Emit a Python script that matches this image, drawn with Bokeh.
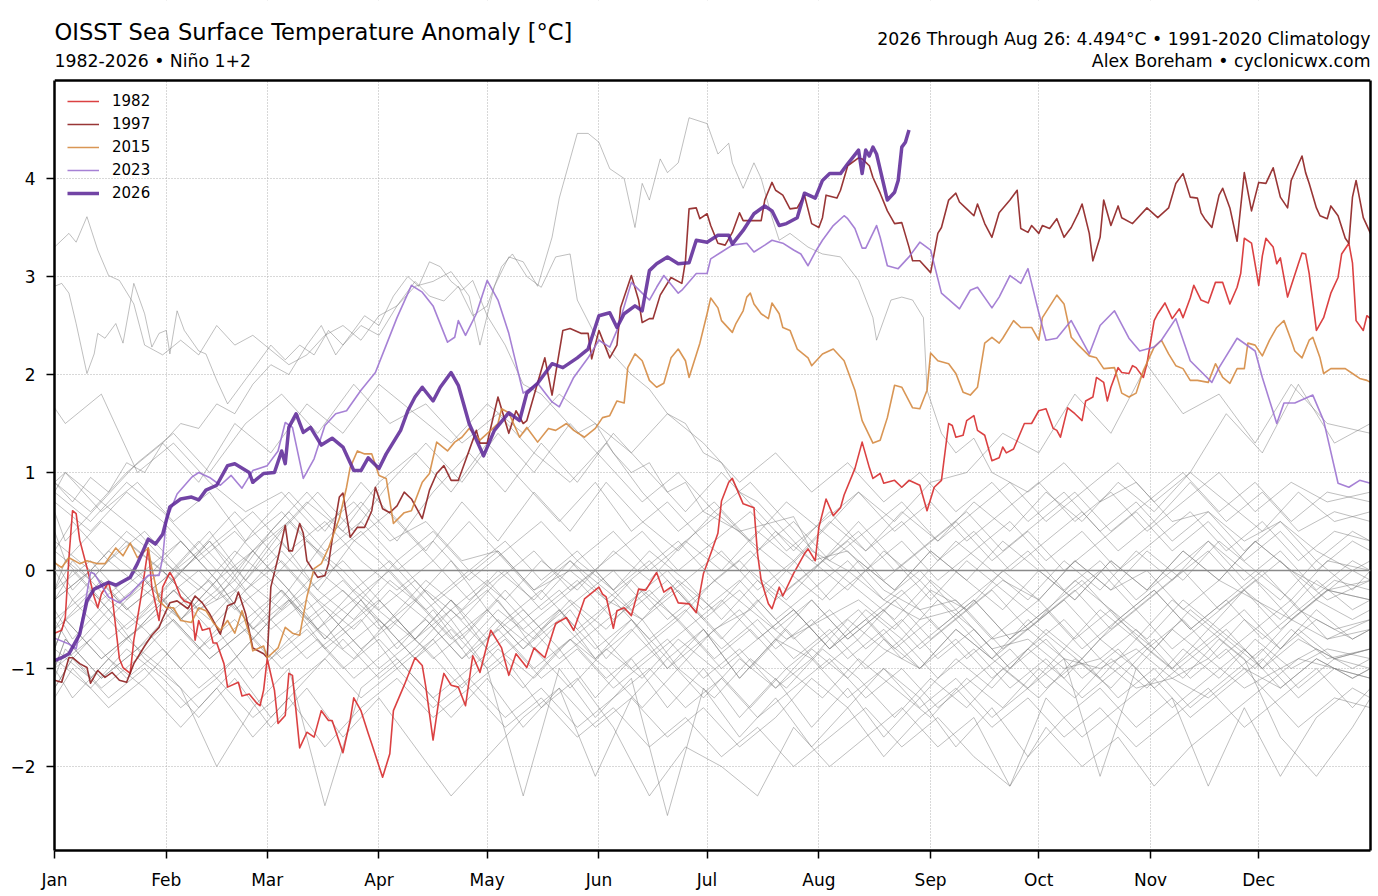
from bokeh.plotting import figure
from bokeh.models import (Range1d, FixedTicker, Span, Label, CustomJSTickFormatter,
                          LinearAxis, BoxAnnotation)
from bokeh.embed import file_html
from bokeh.resources import INLINE

# ---------------- axis data ----------------
X_MIN, X_MAX = 0, 365
Y_MIN, Y_MAX = -2.857, 5.0
MONTH_STARTS = [0, 31, 59, 90, 120, 151, 181, 212, 243, 273, 304, 334]
MONTH_LABELS = ["Jan", "Feb", "Mar", "Apr", "May", "Jun", "Jul", "Aug", "Sep", "Oct", "Nov", "Dec"]
Y_TICKS = [-2, -1, 0, 1, 2, 3, 4]

# ---------------- highlighted years: (day of year, anomaly) ----------------
S1982 = [(0,-0.64),(2,-0.61),(3,-0.48),(4,0.13),(5,0.61),(6,0.58),(7,0.31),(9,0.03),(11,-0.27),(12,-0.38),
         (13,-0.24),(15,-0.12),(16,-0.27),(18,-0.9),(19,-0.99),(21,-1.05),(22,-0.71),(24,-0.27),(26,0.23),(27,-0.17),
         (29,-0.51),(30,-0.17),(32,-0.02),(33,-0.08),(35,-0.27),(36,-0.31),(38,-0.34),(39,-0.71),(40,-0.51),(41,-0.61),
         (43,-0.59),(44,-0.74),(45,-0.74),(47,-0.95),(48,-1.19),(51,-1.14),(52,-1.28),(54,-1.26),(56,-1.35),(57,-1.38),
         (58,-1.22),(59,-0.9),(61,-1.22),(62,-1.56),(64,-1.48),(65,-1.05),(66,-1.07),(68,-1.81),(70,-1.65),(72,-1.7),
         (74,-1.43),(76,-1.53),(77,-1.53),(80,-1.86),(82,-1.53),(83,-1.3),(85,-1.43),(87,-1.66),(88,-1.77),(91,-2.11),
         (93,-1.87),(94,-1.43),(97,-1.17),(100,-0.89),(102,-0.97),(103,-1.19),(105,-1.73),(107,-1.22),(108,-1.05),(110,-1.17),
         (112,-1.19),(114,-1.38),(116,-0.87),(118,-1.04),(121,-0.61),(124,-0.79),(126,-1.07),(128,-0.85),(131,-0.99),(133,-0.79),
         (136,-0.89),(139,-0.54),(142,-0.48),(144,-0.61),(147,-0.29),(151,-0.17),(152,-0.24),(153,-0.27),(155,-0.59),(156,-0.41),
         (158,-0.38),(160,-0.46),(162,-0.19),(164,-0.2),(167,-0.02),(169,-0.22),(171,-0.17),(173,-0.33),(176,-0.34),(178,-0.43),
         (180,-0.03),(182,0.17),(184,0.38),(185,0.71),(187,0.9),(188,0.94),(191,0.68),(194,0.64),(195,0.17),(196,-0.1),
         (198,-0.34),(199,-0.39),(201,-0.17),(202,-0.26),(205,-0.03),(208,0.17),(209,0.22),(211,0.1),(212,0.44),(214,0.73),
         (216,0.56),(218,0.64),(219,0.77),(222,1.04),(224,1.31),(226,1.05),(227,0.94),(229,0.99),(230,0.89),(233,0.92),
         (235,0.85),(237,0.92),(240,0.87),(242,0.61),(244,0.85),(246,0.92),(248,1.5),(249,1.48),(250,1.36),(252,1.38),
         (253,1.53),(255,1.58),(256,1.43),(258,1.38),(260,1.12),(262,1.15),(263,1.26),(264,1.2),(266,1.24),(269,1.5),
         (271,1.5),(273,1.63),(275,1.65),(277,1.45),(278,1.43),(279,1.36),(281,1.66),(283,1.6),(285,1.53),(286,1.73),
         (288,1.77),(289,1.97),(291,1.92),(292,1.73),(293,1.87),(295,2.07),(296,2.02),(298,2.01),(299,2.09),(300,2.07),
         (302,1.97),(303,2.11),(305,2.55),(306,2.62),(308,2.73),(310,2.57),(312,2.67),(313,2.58),(315,2.78),(316,2.91),
         (318,2.76),(320,2.73),(322,2.94),(324,2.94),(326,2.72),(328,2.89),(329,3.03),(330,3.39),(332,3.34),(334,2.91),
         (335,3.21),(336,3.39),(338,3.3),(339,3.13),(340,3.19),(342,2.79),(345,3.13),(346,3.24),(347,3.23),(348,3.03),
         (350,2.45),(352,2.58),(354,2.83),(356,2.99),(357,3.23),(359,3.34),(360,3.14),(361,2.55),(363,2.45),(364,2.6),(365,2.57)]

S1997 = [(0,-1.12),(2,-1.14),(4,-0.89),(5,-0.89),(7,-0.95),(9,-0.99),(10,-1.15),(12,-1.02),(14,-1.09),(16,-1.04),
         (18,-1.12),(20,-1.14),(22,-0.95),(25,-0.77),(27,-0.66),(29,-0.58),(30,-0.49),(32,-0.33),(34,-0.31),(37,-0.39),
         (39,-0.26),(41,-0.33),(43,-0.44),(46,-0.65),(48,-0.36),(50,-0.33),(51,-0.22),(53,-0.44),(55,-0.79),(58,-0.85),
         (59,-0.89),(60,-0.17),(62,0.13),(64,0.46),(65,0.2),(66,0.2),(68,0.48),(69,0.38),(70,0.1),(73,-0.07),
         (75,-0.05),(76,0.07),(77,0.31),(79,0.75),(80,0.79),(82,0.34),(84,0.44),(86,0.44),(88,0.61),(89,0.85),
         (91,0.63),(93,0.59),(95,0.66),(97,0.8),(99,0.73),(102,0.53),(104,0.82),(106,0.99),(108,1.07),(110,0.92),
         (112,0.92),(113,1.02),(117,1.43),(118,1.3),(120,1.3),(123,1.77),(126,1.4),(128,1.63),(130,1.5),(131,1.53),
         (136,2.17),(138,1.79),(141,2.45),(143,2.47),(146,2.42),(148,2.42),(149,2.16),(151,2.45),(154,2.17),(156,2.3),
         (157,2.68),(160,3.01),(162,2.76),(163,2.53),(165,2.57),(166,2.57),(168,2.81),(171,2.99),(174,2.93),(175,3.16),
         (176,3.69),(178,3.7),(179,3.59),(181,3.64),(182,3.52),(184,3.34),(186,3.32),(188,3.45),(190,3.65),(191,3.57),
         (193,3.57),(196,3.57),(197,3.78),(199,3.96),(200,3.88),(202,3.83),(204,3.69),(206,3.7),(208,3.83),(210,3.54),
         (212,3.5),(213,3.6),(214,3.83),(217,3.8),(218,3.88),(220,4.13),(223,4.21),(224,4.2),(226,4.13),(227,4.01),
         (229,3.85),(231,3.67),(233,3.54),(235,3.55),(237,3.3),(238,3.16),(240,3.16),(243,3.04),(245,3.44),(246,3.5),
         (248,3.78),(250,3.85),(251,3.76),(253,3.69),(255,3.62),(256,3.74),(258,3.54),(260,3.4),(262,3.65),(265,3.78),
         (267,3.88),(268,3.49),(270,3.45),(271,3.52),(273,3.44),(274,3.52),(276,3.49),(278,3.59),(280,3.4),(282,3.5),
         (284,3.65),(285,3.74),(287,3.44),(288,3.16),(290,3.4),(291,3.78),(293,3.52),(295,3.72),(296,3.6),(299,3.54),
         (303,3.7),(306,3.6),(309,3.7),(311,3.95),(313,4.05),(315,3.81),(317,3.8),(318,3.65),(319,3.59),(321,3.5),
         (323,3.83),(324,3.9),(326,3.7),(328,3.36),(330,4.06),(332,3.67),(334,3.96),(336,3.95),(338,4.11),(340,3.81),
         (342,3.7),(343,3.98),(346,4.23),(347,4.06),(348,3.95),(350,3.7),(351,3.62),(353,3.59),(354,3.72),(356,3.62),
         (358,3.39),(359,3.34),(360,3.81),(361,3.98),(363,3.6),(365,3.44)]

S2015 = [(0,0.08),(2,0.03),(4,0.13),(7,0.07),(9,0.1),(12,0.07),(14,0.07),(17,0.23),(19,0.15),(21,0.28),
         (23,0.13),(26,0.23),(27,0.02),(29,-0.31),(31,-0.38),(33,-0.38),(35,-0.51),(38,-0.53),(40,-0.38),(42,-0.41),
         (44,-0.53),(46,-0.61),(48,-0.51),(50,-0.64),(52,-0.41),(54,-0.64),(55,-0.82),(58,-0.77),(59,-0.89),(62,-0.79),
         (64,-0.58),(66,-0.64),(68,-0.66),(70,-0.27),(72,0.02),(74,0.07),(76,0.23),(79,0.53),(81,0.85),(82,1.05),
         (84,1.22),(86,1.19),(88,1.19),(90,0.97),(92,0.94),(94,0.48),(97,0.59),(99,0.61),(102,0.9),(104,0.99),
         (106,1.31),(109,1.22),(111,1.31),(113,1.36),(115,1.45),(118,1.33),(121,1.43),(123,1.5),(124,1.65),(126,1.61),
         (129,1.36),(131,1.46),(134,1.31),(137,1.45),(139,1.43),(142,1.5),(144,1.43),(147,1.36),(150,1.45),(152,1.56),
         (154,1.58),(156,1.73),(158,1.71),(159,2.07),(161,2.21),(163,2.14),(165,1.94),(167,1.87),(169,1.91),(171,2.17),
         (173,2.26),(175,2.14),(176,1.97),(179,2.32),(181,2.62),(182,2.78),(184,2.68),(185,2.55),(188,2.43),(189,2.52),
         (191,2.65),(192,2.79),(193,2.83),(194,2.72),(196,2.62),(198,2.57),(199,2.73),(201,2.62),(202,2.48),(204,2.45),
         (206,2.26),(209,2.17),(210,2.09),(213,2.21),(216,2.26),(219,2.14),(222,1.84),(224,1.53),(227,1.3),(229,1.33),
         (231,1.56),(233,1.89),(235,1.87),(238,1.66),(240,1.65),(242,1.84),(243,2.22),(245,2.14),(248,2.11),(250,2.01),
         (252,1.82),(254,1.79),(256,1.87),(258,2.32),(260,2.38),(262,2.32),(263,2.37),(266,2.55),(268,2.48),(271,2.48),
         (273,2.35),(274,2.58),(278,2.81),(280,2.72),(282,2.38),(284,2.3),(287,2.19),(289,2.17),(291,2.06),(294,2.07),
         (296,1.81),(298,1.77),(300,1.81),(302,2.04),(305,2.28),(307,2.35),(309,2.21),(311,2.09),(313,2.06),(315,1.94),
         (317,1.94),(320,1.92),(322,2.11),(324,1.97),(326,1.91),(328,2.06),(330,2.06),(331,2.32),(333,2.3),(335,2.19),
         (337,2.35),(339,2.48),(341,2.55),(343,2.35),(344,2.24),(346,2.17),(348,2.35),(349,2.38),(351,2.17),(352,2.01),
         (354,2.06),(356,2.06),(358,2.06),(360,2.01),(362,1.96),(364,1.94),(365,1.92)]

S2023 = [(0,-0.69),(4,-0.75),(6,-0.8),(8,-0.44),(10,-0.02),(11,-0.03),(15,-0.27),(18,-0.33),(21,-0.24),(24,-0.12),
         (26,-0.05),(29,-0.05),(30,0.13),(31,0.51),(34,0.78),(38,0.95),(40,1.0),(43,0.95),(46,0.87),(49,0.97),
         (52,0.84),(55,1.02),(59,1.07),(62,1.22),(64,1.51),(66,1.46),(69,0.94),(72,1.14),(75,1.48),(78,1.6),
         (81,1.63),(85,1.84),(89,2.02),(92,2.3),(95,2.58),(99,2.91),(102,2.84),(105,2.7),(109,2.33),(111,2.38),
         (112,2.55),(114,2.4),(117,2.62),(120,2.96),(123,2.76),(126,2.42),(130,1.81),(134,1.91),(138,1.72),(140,1.67),
         (144,1.97),(148,2.17),(151,2.35),(154,2.28),(156,2.45),(160,2.94),(163,2.83),(165,2.76),(167,2.89),(169,3.01),
         (173,2.83),(174,2.86),(178,3.03),(181,3.03),(182,3.18),(185,3.25),(188,3.32),(192,3.34),(194,3.25),(197,3.32),
         (199,3.37),(202,3.34),(205,3.27),(207,3.23),(209,3.11),(211,3.25),(213,3.37),(216,3.52),(219,3.62),(220,3.59),
         (222,3.49),(224,3.29),(225,3.29),(228,3.52),(229,3.4),(231,3.11),(234,3.08),(237,3.2),(240,3.35),(243,3.27),
         (246,2.83),(251,2.67),(254,2.86),(256,2.89),(260,2.68),(262,2.79),(265,3.01),(268,2.93),(270,3.08),(273,2.63),
         (275,2.35),(278,2.37),(282,2.55),(287,2.21),(290,2.5),(294,2.65),(298,2.37),(301,2.24),(305,2.28),(307,2.35),
         (311,2.57),(315,2.14),(321,1.92),(323,2.07),(328,2.37),(333,2.24),(335,1.97),(339,1.5),(341,1.71),(344,1.71),
         (349,1.79),(352,1.53),(356,0.89),(359,0.85),(362,0.92),(365,0.89)]

S2026 = [(0,-0.92),(2,-0.89),(4,-0.85),(7,-0.65),(9,-0.31),(11,-0.19),(15,-0.12),(17,-0.15),(21,-0.07),(23,0.07),
         (26,0.32),(28,0.27),(30,0.37),(32,0.65),(35,0.73),(38,0.75),(40,0.72),(42,0.82),(45,0.87),(48,1.07),
         (50,1.09),(54,1.0),(55,0.9),(58,0.99),(61,1.0),(63,1.22),(64,1.09),(65,1.46),(67,1.6),(69,1.41),
         (71,1.46),(74,1.28),(77,1.35),(80,1.26),(83,1.02),(85,1.02),(87,1.15),(90,1.04),(92,1.19),(96,1.43),
         (98,1.63),(100,1.77),(102,1.87),(105,1.73),(107,1.87),(110,2.02),(112,1.89),(115,1.5),(119,1.17),(122,1.43),
         (126,1.61),(129,1.53),(131,1.81),(134,1.91),(138,2.11),(141,2.07),(145,2.17),(148,2.26),(151,2.6),(154,2.63),
         (156,2.48),(158,2.62),(161,2.7),(163,2.65),(165,3.06),(167,3.13),(170,3.2),(173,3.13),(176,3.14),(178,3.37),
         (181,3.35),(184,3.42),(187,3.42),(188,3.33),(191,3.47),(194,3.64),(197,3.72),(199,3.67),(201,3.52),(203,3.54),
         (206,3.6),(208,3.85),(211,3.8),(213,3.98),(215,4.05),(218,4.05),(220,4.15),(223,4.29),(224,4.05),(225,4.29),
         (226,4.23),(227,4.32),(228,4.25),(231,3.78),(233,3.86),(234,3.98),(235,4.32),(236,4.37),(237,4.494)]

# ---------------- other years (grey) ----------------
G1983 = [(0,3.3),(4,3.44),(6,3.35),(9,3.61),(12,3.27),(15,3.01),(18,2.96),(22,2.72),(25,2.3),(30,2.2),
         (35,2.35),(40,2.2),(45,2.5),(50,2.3),(55,2.4),(60,2.25),(65,2.1),(70,2.2),(75,2.4),(80,2.5),
         (85,2.35),(90,2.6),(95,2.7),(100,2.9),(105,2.95),(110,3.05),(115,2.8),(118,2.3),(122,2.9),(126,3.2),
         (130,3.15),(134,2.9),(138,3.4),(140,3.8),(145,4.46),(148,4.46),(151,4.37),(154,4.1),(158,4.0),(161,3.5),
         (163,3.95),(165,3.78),(168,4.2),(170,4.06),(173,4.16),(176,4.62),(181,4.56),(184,4.25),(187,4.36),(188,4.16),
         (191,3.9),(194,4.16),(196,4.0),(199,3.6),(201,3.37),(204,3.44),(209,3.3),(213,3.23),(218,3.2),(223,2.96),
         (227,2.58),(228,2.35),(232,2.76),(235,2.79),(238,2.76),(241,2.58),(242,1.84),(246,1.4),(250,1.2),(255,1.35),
         (260,1.0),(270,0.8),(280,1.1),(290,0.7),(300,0.9),(310,0.5),(320,0.6),(330,0.3),(340,0.5),(350,0.2),
         (360,0.0),(365,0.1)]

G1998 = [(0,2.9),(2,2.93),(4,2.83),(6,2.52),(9,2.01),(11,2.21),(12,2.42),(14,2.37),(17,2.52),(19,2.32),
         (22,2.93),(25,2.62),(27,2.28),(29,2.42),(31,2.45),(32,2.21),(34,2.65),(36,2.45),(40,2.24),(42,2.21),
         (45,1.94),(48,1.7),(52,1.9),(56,2.1),(60,2.3),(64,2.15),(68,2.3),(72,2.2),(76,2.45),(80,2.3),
         (85,2.5),(90,2.4),(95,2.7),(100,2.95),(104,2.8),(108,2.75),(112,2.9),(116,2.6),(120,2.7),(124,3.1),
         (127,3.23),(131,3.0),(135,2.89),(139,3.2),(143,3.23),(145,2.76),(150,2.4),(155,2.2),(160,2.0),(165,1.85),
         (170,1.6),(175,1.5),(180,1.2),(185,1.1),(190,0.8),(195,0.7),(200,0.5),(205,0.55),(210,0.2),(220,0.0),
         (230,-0.3),(240,-0.5),(250,-0.4),(260,-0.8),(270,-0.7),(280,-1.0),(290,-0.9),(300,-1.2),(310,-1.1),(320,-1.3),
         (330,-1.0),(340,-1.2),(350,-0.9),(360,-1.1),(365,-1.0)]

G2017 = [(0,0.9),(5,0.7),(10,0.95),(15,0.8),(20,1.1),(25,1.0),(30,1.3),(35,1.5),(40,1.45),(45,1.7),
         (50,1.6),(55,1.9),(60,2.1),(65,2.0),(70,2.3),(74,2.5),(78,2.2),(82,2.4),(86,2.6),(90,2.5),
         (94,2.8),(98,3.0),(101,2.9),(104,3.15),(107,3.1),(110,2.95),(113,2.86),(116,2.96),(120,2.6),(125,2.3),
         (130,1.9),(135,1.8),(140,1.6),(145,1.4),(150,1.5),(155,1.2),(160,1.0),(165,1.1),(170,0.8),(175,0.9),
         (180,0.6),(190,0.4),(200,0.5),(210,0.1),(220,0.2),(230,-0.2),(240,-0.4),(250,-0.3),(260,-0.7),(270,-0.6),
         (280,-0.9),(290,-1.0),(300,-0.8),(310,-1.1),(320,-0.9),(330,-1.2),(340,-1.0),(350,-0.8),(360,-1.0),(365,-0.9)]

# three staggered day grids for the remaining years
G_DAYS_A = [0,10,20,30,40,50,60,70,80,90,100,110,120,130,140,150,160,170,180,190,
            200,210,220,230,240,250,260,270,280,290,300,310,320,330,340,350,360,365]
G_DAYS_B = [0,5,15,25,35,45,55,65,75,85,95,105,115,125,135,145,155,165,175,185,
            195,205,215,225,235,245,255,265,275,285,295,305,315,325,335,345,355,365]
G_DAYS_C = [0,3,13,23,33,43,53,63,73,83,93,103,113,123,133,143,153,163,173,183,
            193,203,213,223,233,243,253,263,273,283,293,303,313,323,333,343,353,365]

Y1984 = [0.2,-0.1,0.3,0.0,-0.4,-0.2,-0.6,-0.3,-0.8,-0.5,-0.9,-0.6,-1.0,-0.7,-0.4,-0.8,-0.5,-0.9,-0.6,-1.1,-0.7,-0.9,-0.5,-0.8,-1.0,-0.6,-0.9,-1.2,-0.8,-1.1,-0.7,-1.0,-0.6,-0.9,-1.7,-2.1,-1.6,-1.3]
Y1985 = [-0.5,-0.8,-0.4,-0.9,-1.2,-2.0,-1.4,-1.0,-2.4,-1.2,-0.9,-1.3,-1.0,-0.7,-1.1,-0.8,-1.2,-0.9,-0.6,-1.0,-0.7,-0.4,-0.8,-0.5,-0.9,-0.6,-0.3,-0.7,-0.4,-0.8,-0.5,-0.2,-0.6,-0.3,-0.7,-0.4,-0.6,-0.5]
Y1986 = [-0.8,-0.5,-0.9,-0.6,-0.2,-0.5,-0.1,-0.4,0.0,-0.3,-0.6,-0.2,-0.5,-0.1,0.2,-0.2,0.1,0.4,0.0,0.3,0.6,0.2,0.5,0.8,0.4,0.7,0.3,0.6,0.9,0.5,0.8,0.4,0.7,1.0,0.6,0.9,0.7,0.8]
Y1987 = [0.9,0.6,1.0,1.3,0.9,1.5,1.2,1.7,1.4,1.9,1.6,1.3,1.7,1.4,1.8,1.5,1.2,1.6,1.3,0.9,1.2,0.8,1.1,0.7,1.0,0.6,0.9,0.5,0.8,0.4,0.7,0.3,0.6,0.2,0.5,0.1,0.4,0.3]
Y1988 = [0.0,-0.3,0.1,-0.2,-0.5,-0.1,-0.6,-0.3,-0.8,-0.5,-1.0,-0.7,-1.2,-0.9,-1.4,-1.1,-1.6,-2.3,-1.8,-2.0,-2.3,-1.6,-2.0,-1.7,-1.4,-1.8,-1.5,-2.2,-1.6,-2.0,-1.7,-2.2,-1.8,-1.5,-1.2,-1.6,-1.3,-1.4]
Y1989 = [-1.0,-0.7,-1.1,-0.8,-0.4,-0.8,-0.5,-0.9,-0.6,-0.2,-0.5,-0.1,-0.4,0.0,-0.3,0.1,-0.2,-0.5,-0.1,-0.4,0.0,-0.3,0.1,-0.2,-0.5,-0.1,-0.4,0.0,-0.3,0.1,-0.2,0.2,-0.1,0.3,0.0,-0.3,0.1,0.0]
Y1990 = [0.3,0.0,0.4,0.1,-0.2,0.2,-0.1,0.3,0.0,-0.4,-0.1,-0.5,-0.2,-0.6,-0.3,0.0,-0.4,-0.1,-0.5,-0.2,-0.6,-0.3,-0.7,-0.4,-0.1,-0.5,-0.2,-0.6,-0.3,0.0,-0.4,-0.1,0.2,-0.2,0.1,-0.3,0.0,-0.1]
Y1991 = [-0.2,0.1,-0.3,0.0,0.3,-0.1,0.2,0.5,0.1,0.4,0.0,0.3,-0.1,0.2,0.5,0.1,0.4,0.0,0.3,0.6,0.2,0.5,0.1,0.4,0.7,0.3,0.6,0.9,0.5,0.8,1.1,0.7,1.0,1.6,1.2,1.9,1.3,1.5]
Y1992 = [0.8,1.0,0.7,1.1,1.4,1.0,1.5,1.8,1.4,1.9,1.5,1.7,1.3,1.6,1.2,0.9,1.3,0.8,0.4,0.7,0.3,0.0,0.4,0.1,-0.2,0.2,-0.1,-0.4,0.0,-0.3,0.1,-0.2,0.2,-0.1,0.3,0.0,-0.3,-0.1]
Y1993 = [-0.3,0.0,-0.4,-0.1,0.2,-0.2,0.3,0.7,0.4,0.9,1.2,0.8,1.3,0.9,0.5,0.9,0.4,0.7,0.3,0.0,0.4,0.1,-0.2,0.2,-0.1,0.3,0.0,-0.3,0.1,-0.2,0.2,-0.1,0.3,0.0,-0.3,0.1,-0.2,0.0]
Y1994 = [-0.4,-0.7,-0.3,-0.6,-1.0,-0.6,-1.1,-0.7,-0.4,-0.8,-0.5,-0.9,-0.6,-0.2,-0.6,-0.3,0.0,-0.4,-0.1,0.2,-0.2,0.1,-0.3,0.0,0.3,-0.1,0.2,0.5,0.1,0.4,0.0,0.3,0.6,0.2,0.5,0.1,0.4,0.3]
Y1995 = [0.4,0.1,0.5,0.2,-0.1,0.3,-0.2,0.1,-0.3,-0.6,-0.2,-0.5,-0.9,-0.5,-0.8,-1.2,-0.8,-1.1,-0.7,-1.0,-1.4,-1.0,-1.3,-0.9,-1.2,-1.5,-1.1,-1.4,-1.0,-1.3,-0.9,-1.2,-0.8,-1.1,-0.7,-1.0,-0.8,-0.9]
Y1996 = [-0.9,-1.2,-0.8,-1.1,-1.5,-1.1,-1.6,-1.2,-1.7,-1.3,-1.8,-2.3,-1.9,-1.5,-1.2,-1.6,-1.3,-1.7,-1.4,-1.8,-1.5,-1.1,-1.4,-1.0,-1.3,-0.9,-1.2,-0.8,-1.1,-0.7,-1.0,-0.6,-0.9,-0.5,-0.8,-0.4,-0.7,-0.6]
Y1999 = [-1.2,-0.9,-1.3,-1.0,-1.4,-1.1,-1.5,-1.2,-0.9,-1.3,-1.0,-1.4,-1.1,-1.5,-1.2,-1.6,-1.3,-1.0,-1.4,-1.1,-1.5,-1.2,-0.9,-1.3,-1.0,-1.4,-1.1,-0.8,-1.2,-0.9,-1.3,-1.0,-1.4,-1.1,-0.8,-1.2,-0.9,-1.0]
Y2000 = [-1.0,-0.7,-1.1,-0.8,-0.5,-0.9,-0.6,-1.0,-0.7,-1.1,-0.8,-0.5,-0.9,-0.6,-1.0,-0.7,-1.1,-0.8,-0.5,-0.9,-0.6,-1.0,-0.7,-0.4,-0.8,-0.5,-0.9,-0.6,-0.3,-0.7,-0.4,-0.8,-0.5,-0.9,-0.6,-0.3,-0.7,-0.5]
Y2001 = [-0.5,-0.2,-0.6,-0.3,0.0,-0.4,-0.1,-0.5,-0.2,-0.6,-0.3,-0.7,-0.4,-0.8,-0.5,-0.9,-0.6,-1.0,-0.7,-0.4,-0.8,-0.5,-0.9,-0.6,-1.0,-0.7,-1.1,-0.8,-0.5,-0.9,-0.6,-1.0,-0.7,-0.4,-0.8,-0.5,-0.7,-0.6]
Y2002 = [-0.6,-0.3,-0.7,-0.4,0.0,-0.3,0.2,0.6,0.2,0.5,0.1,0.4,0.0,-0.3,0.1,-0.2,0.2,-0.1,0.3,0.0,0.4,0.1,0.5,0.2,0.6,0.3,0.7,0.4,0.8,0.5,0.9,0.6,1.0,0.7,0.4,0.8,0.5,0.6]
Y2003 = [0.6,0.3,0.7,0.4,0.0,0.4,-0.1,0.3,-0.2,-0.5,-0.1,-0.4,-0.8,-0.4,-0.7,-0.3,-0.6,-0.2,-0.5,-0.1,-0.4,0.0,-0.3,0.1,-0.2,0.2,-0.1,0.3,0.0,-0.3,0.1,-0.2,0.2,-0.1,0.3,0.0,-0.2,-0.1]
Y2004 = [-0.2,0.1,-0.3,0.0,-0.4,-0.1,-0.5,-0.2,-0.6,-0.3,-0.7,-0.4,-0.1,-0.5,-0.2,-0.6,-0.3,0.0,-0.4,-0.1,-0.5,-0.2,0.1,-0.3,0.0,-0.4,-0.1,0.2,-0.2,0.1,-0.3,0.0,0.3,-0.1,0.2,-0.2,0.1,0.0]
Y2005 = [0.1,-0.2,0.2,-0.1,-0.5,-0.1,-0.6,-0.2,-0.7,-0.3,-0.8,-0.4,-0.9,-0.5,-0.2,-0.6,-0.3,-0.7,-0.4,-0.8,-0.5,-0.9,-0.6,-1.0,-0.7,-1.1,-0.8,-1.2,-0.9,-1.3,-1.0,-0.7,-1.1,-0.8,-1.2,-0.9,-1.0,-1.1]
Y2006 = [-1.1,-0.8,-1.2,-0.9,-0.5,-0.9,-0.6,-0.2,-0.6,-0.3,0.0,-0.4,-0.1,0.2,-0.2,0.1,-0.3,0.0,0.3,-0.1,0.2,-0.2,0.1,0.4,0.0,0.3,0.6,0.2,0.5,0.8,0.4,0.7,1.0,0.6,0.9,0.5,0.8,0.7]
Y2007 = [0.7,0.4,0.8,0.5,0.1,0.4,0.0,-0.4,-0.1,-0.5,-0.9,-0.5,-1.0,-2.3,-1.0,-1.5,-1.1,-2.5,-1.2,-1.7,-1.3,-1.8,-1.4,-1.9,-1.5,-1.2,-1.6,-1.3,-1.7,-1.4,-1.8,-1.5,-1.2,-1.6,-1.3,-1.0,-1.4,-1.2]
Y2008 = [-1.2,-0.9,-0.5,-0.1,0.3,-0.1,0.4,0.8,0.4,0.9,0.5,0.1,0.5,0.1,-0.3,0.1,-0.2,0.2,-0.1,-0.5,-0.1,-0.4,-0.8,-0.4,-0.7,-0.3,-0.6,-1.0,-0.6,-0.9,-0.5,-0.8,-0.4,-0.7,-1.0,-0.6,-0.9,-0.8]
Y2009 = [-0.8,-0.5,-0.9,-0.6,-0.2,-0.6,-0.2,0.2,-0.2,0.3,0.6,0.2,0.7,0.3,0.8,0.4,0.9,0.5,0.2,0.6,0.3,0.7,0.4,0.8,0.5,0.9,1.0,1.4,1.2,1.8,1.4,2.1,1.6,1.8,1.3,1.9,1.5,1.4]
Y2010 = [0.8,0.5,0.9,0.6,0.2,0.6,0.2,-0.2,0.1,-0.3,-0.7,-0.3,-0.8,-1.2,-0.8,-1.3,-0.9,-1.4,-1.0,-1.5,-1.1,-1.6,-1.2,-1.7,-1.3,-1.8,-1.4,-1.9,-1.5,-1.2,-1.6,-1.3,-2.2,-1.4,-2.1,-1.5,-1.2,-1.3]
Y2011 = [-1.3,-1.0,-1.4,-1.1,-0.7,-1.1,-0.7,-0.3,-0.7,-0.3,0.1,-0.3,0.0,0.3,-0.1,0.2,-0.2,0.1,-0.3,-0.7,-0.3,-0.7,-0.4,-0.8,-0.5,-0.9,-0.6,-1.0,-0.7,-1.1,-0.8,-1.2,-0.9,-0.6,-1.0,-0.7,-0.9,-0.8]
Y2012 = [-0.8,-0.5,-0.1,-0.5,-0.1,0.3,-0.1,0.4,0.8,0.4,0.9,1.3,0.9,1.4,1.0,1.5,1.1,0.7,1.0,0.6,0.9,0.5,0.1,0.5,0.1,-0.3,0.1,-0.2,-0.5,-0.1,-0.4,-0.7,-0.3,-0.6,-0.9,-0.5,-0.7,-0.6]
Y2013 = [-0.6,-0.3,-0.7,-0.4,-0.8,-0.5,-0.9,-0.6,-1.0,-0.7,-1.1,-1.5,-1.1,-1.6,-1.2,-2.1,-1.3,-0.9,-1.3,-0.9,-1.2,-0.8,-1.1,-0.7,-1.0,-0.6,-0.9,-0.5,-0.8,-0.4,-0.7,-0.3,-0.6,-0.2,-0.5,-0.1,-0.4,-0.3]
Y2014 = [-0.3,0.0,-0.4,-0.1,-0.5,-0.2,0.2,-0.2,0.3,0.7,0.3,0.8,1.2,0.8,1.3,0.9,1.4,1.0,0.6,1.0,0.6,0.2,0.6,0.2,0.5,0.1,0.4,0.0,0.3,0.6,0.2,0.5,0.9,0.5,0.8,0.4,0.6,0.5]
Y2016 = [1.66,1.5,1.8,1.0,1.3,0.9,0.6,0.8,0.4,0.7,0.3,0.5,0.1,0.2,-0.2,0.0,-0.3,-0.5,-0.2,-0.6,-0.4,-0.7,-0.5,-0.3,-0.6,-0.2,-0.4,-0.1,-0.3,0.1,-0.2,0.0,-0.4,-0.1,-0.3,-0.5,-0.2,-0.3]
Y2018 = [-1.0,-0.7,-1.1,-0.8,-1.2,-0.9,-0.5,-0.9,-0.6,-1.0,-0.7,-0.3,-0.7,-0.4,-0.8,-0.5,-0.1,-0.5,-0.2,0.1,-0.3,0.0,0.3,-0.1,0.2,0.5,0.1,0.4,0.0,0.3,0.6,0.2,0.5,0.1,0.4,0.0,0.3,0.2]
Y2019 = [0.2,0.5,0.1,0.4,0.0,0.3,0.6,0.2,0.5,0.1,-0.2,0.1,-0.3,0.0,-0.4,-0.1,-0.5,-0.2,-0.6,-0.3,-0.7,-0.4,-0.8,-0.5,-0.2,-0.6,-0.3,-0.7,-0.4,-0.1,-0.5,-0.2,-0.6,-0.3,0.0,-0.4,-0.1,-0.2]
Y2020 = [-0.2,0.1,-0.3,0.0,-0.4,-0.1,-0.5,-0.2,-0.6,-0.9,-0.5,-0.8,-1.2,-0.8,-1.1,-0.7,-1.0,-1.4,-1.0,-1.3,-0.9,-1.2,-0.8,-1.1,-1.5,-1.1,-1.4,-1.0,-1.3,-0.9,-1.2,-0.8,-1.1,-0.7,-1.0,-0.6,-0.9,-0.8]
Y2021 = [-0.8,-1.1,-0.7,-1.0,-1.4,-1.0,-1.5,-1.1,-0.7,-1.1,-0.8,-0.4,-0.8,-0.5,-0.9,-0.6,-1.0,-0.7,-1.1,-0.8,-1.2,-0.9,-1.3,-1.0,-1.4,-1.1,-1.5,-1.2,-0.9,-2.1,-1.0,-1.4,-1.1,-0.8,-1.2,-0.9,-1.1,-1.0]
Y2022 = [-1.0,-1.3,-0.9,-1.2,-1.6,-1.2,-1.7,-1.3,-1.8,-1.4,-1.1,-1.5,-1.2,-1.6,-1.3,-1.7,-1.4,-1.8,-1.5,-1.9,-1.6,-2.0,-1.7,-1.4,-1.8,-1.5,-1.9,-2.2,-1.3,-1.7,-1.4,-1.1,-1.5,-1.2,-0.9,-1.3,-1.0,-1.1]
Y2024 = [0.9,1.0,0.6,0.9,0.5,0.8,0.3,0.6,0.2,-0.2,0.1,-0.3,-0.7,-0.3,-0.8,-0.4,-0.9,-0.5,-1.0,-0.6,-1.0,-0.6,-1.0,-0.7,-0.3,-0.7,-0.4,-0.8,-0.5,-0.2,-0.6,-0.3,0.0,-0.4,-0.1,-0.5,-0.2,-0.3]
Y2025 = [-0.3,0.0,-0.4,-0.1,0.3,-0.1,0.4,0.8,0.4,0.1,-0.3,0.1,-0.4,-0.8,-0.4,-0.9,-0.5,-1.0,-0.6,-1.1,-0.7,-0.3,-0.7,-0.4,-0.8,-0.5,-0.9,-0.6,-0.3,-0.7,-0.4,-0.8,-0.5,-0.2,-0.6,-0.3,-0.5,-0.4]

# ---------------- texts ----------------
TITLE = "OISST Sea Surface Temperature Anomaly [°C]"
SUBTITLE = "1982-2026 • Niño 1+2"
RIGHT1 = "2026 Through Aug 26: 4.494°C • 1991-2020 Climatology"
RIGHT2 = "Alex Boreham • cyclonicwx.com"
FONT = "DejaVu Sans"

# ---------------- layout (pixels) ----------------
FRAME_H = 770          # visible plotting box height
HEADER_H = 80          # header band above the box
YPX = (Y_MAX - Y_MIN) / FRAME_H
Y_TOP = Y_MAX + HEADER_H * YPX   # the frame also holds the header band


def split(pairs):
    return [d for d, _ in pairs], [v for _, v in pairs]


p = figure(width=1376, height=894, output_backend="svg", toolbar_location=None,
           x_range=Range1d(X_MIN, X_MAX), y_range=Range1d(Y_MIN, Y_TOP),
           min_border_left=54, min_border_right=6, min_border_top=0, min_border_bottom=44)
p.background_fill_color = "white"
p.border_fill_color = "white"
p.outline_line_color = None

# grid
p.xgrid.ticker = FixedTicker(ticks=MONTH_STARTS)
p.ygrid.ticker = FixedTicker(ticks=Y_TICKS)
for g in (p.xgrid[0], p.ygrid[0]):
    g.grid_line_color = "#b0b0b0"
    g.grid_line_dash = "1 2"
    g.grid_line_width = 1

# grey years
gxs, gys = [], []
for pairs in (G1983, G1998, G2017):
    d, v = split(pairs)
    gxs.append(d)
    gys.append(v)
GROUPS = [(G_DAYS_A, (Y1984, Y1987, Y1990, Y1993, Y1996, Y2001, Y2004, Y2007, Y2010, Y2013, Y2018, Y2021, Y2025)),
          (G_DAYS_B, (Y1985, Y1988, Y1991, Y1994, Y1999, Y2002, Y2005, Y2008, Y2011, Y2014, Y2019, Y2022)),
          (G_DAYS_C, (Y1986, Y1989, Y1992, Y1995, Y2000, Y2003, Y2006, Y2009, Y2012, Y2016, Y2020, Y2024))]
for days, series in GROUPS:
    for vals in series:
        n = min(len(vals), len(days))
        gxs.append(days[:n])
        gys.append(vals[:n])
p.multi_line(gxs, gys, line_color="#7a7a7a", line_alpha=0.48, line_width=1)

p.add_layout(Span(location=0, dimension="width", line_color="#8a8a8a", line_width=1.6))

HIGHLIGHT = [(S1982, "1982", "#d62728", 1.6),
             (S1997, "1997", "#8b1a1a", 1.6),
             (S2015, "2015", "#d4883e", 1.6),
             (S2023, "2023", "#9a6fcf", 1.6),
             (S2026, "2026", "#5e2a98", 3.5)]
for pairs, name, color, w in HIGHLIGHT:
    d, v = split(pairs)
    p.line(d, v, line_color=color, line_alpha=0.88, line_width=w, legend_label=name, line_join="round")

# header band: white cover above the data box, then the top edge of the box
p.add_layout(BoxAnnotation(left=X_MIN, right=X_MAX, bottom=Y_MAX, top=Y_TOP,
                           fill_color="white", fill_alpha=1.0, line_alpha=0))
p.add_layout(Span(location=Y_MAX, dimension="width", line_color="black", line_width=2.5))

# axes
for ax in (p.xaxis[0], p.yaxis[0]):
    ax.axis_line_color = "black"
    ax.axis_line_width = 2.5
    ax.major_tick_out = 8
    ax.major_tick_in = 0
    ax.major_tick_line_width = 1.5
    ax.major_tick_line_color = "black"
    ax.minor_tick_line_color = None
    ax.major_label_text_font = FONT
    ax.major_label_text_font_size = "17px"
    ax.major_label_text_color = "black"
    ax.major_label_standoff = 11

p.xaxis[0].ticker = FixedTicker(ticks=MONTH_STARTS)
p.xaxis[0].major_label_overrides = {m: lab for m, lab in zip(MONTH_STARTS, MONTH_LABELS)}
p.yaxis[0].ticker = FixedTicker(ticks=Y_TICKS)
p.yaxis[0].bounds = (Y_MIN, Y_MAX)
p.yaxis[0].formatter = CustomJSTickFormatter(code="return (tick < 0 ? '\u2212' : '') + Math.abs(tick);")

right_axis = LinearAxis(ticker=FixedTicker(ticks=[]), bounds=(Y_MIN, Y_MAX),
                        axis_line_color="black", axis_line_width=2.5,
                        major_tick_line_color=None, minor_tick_line_color=None,
                        major_tick_out=0, minor_tick_out=0)
p.add_layout(right_axis, "right")

# legend (bottom-left corner given in pixels from the frame's bottom-left)
lg = p.legend[0]
lg.border_line_alpha = 0
lg.background_fill_alpha = 0
lg.label_text_font = FONT
lg.label_text_font_size = "15px"
lg.label_text_color = "black"
lg.glyph_width = 32
lg.glyph_height = 18
lg.label_height = 18
lg.label_standoff = 13
lg.spacing = 5
lg.padding = 12
lg.margin = 0
LEGEND_H = 2 * 12 + 5 * 18 + 4 * 5
lg.location = (1, FRAME_H - LEGEND_H)

# header texts
for txt, xx, yy, size, align in [(TITLE, X_MIN, Y_MAX + 49 * YPX, "22.6px", "left"),
                                 (SUBTITLE, X_MIN, Y_MAX + 20 * YPX, "17.3px", "left"),
                                 (RIGHT1, X_MAX, Y_MAX + 42 * YPX, "17.3px", "right"),
                                 (RIGHT2, X_MAX, Y_MAX + 20 * YPX, "17.3px", "right")]:
    p.add_layout(Label(x=xx, y=yy, x_units="data", y_units="data", text=txt, text_color="black",
                       text_font=FONT, text_font_size=size, text_baseline="middle", text_align=align))

open("out.html", "w").write(file_html(p, INLINE))
